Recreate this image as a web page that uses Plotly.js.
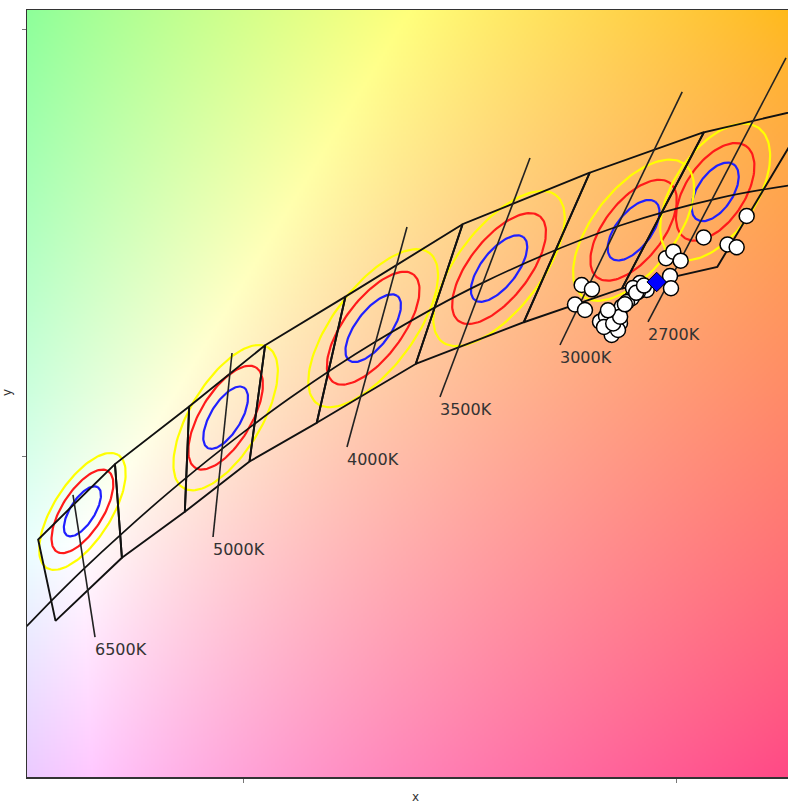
<!DOCTYPE html>
<html><head><meta charset="utf-8">
<script src="https://cdn.plot.ly/plotly-3.0.1.min.js"></script>
<style>html,body{margin:0;padding:0;background:#fff}</style>
</head><body>
<div id="chart" style="width:788px;height:804px"></div>
<script>
// ---------- axis ranges (CIE 1931 x, y) ----------
const xRange = [0.30023, 0.47558];
const yRange = [0.27465, 0.45469];
const tickValsX = [0.35, 0.45];
const tickValsY = [0.35, 0.45];

// ---------- Planckian locus ----------
const planckCCT = [2500, 2700, 3000, 3500, 4000, 4500, 5000, 5500, 6000, 6500, 7000, 7500, 8000];
const planckX = [0.4770, 0.4599, 0.4369, 0.4053, 0.3805, 0.3608, 0.3451, 0.3325, 0.3221, 0.3135, 0.3064, 0.3004, 0.2952];
const planckY = [0.4137, 0.4106, 0.4041, 0.3907, 0.3768, 0.3636, 0.3516, 0.3411, 0.3318, 0.3237, 0.3166, 0.3103, 0.3048];

// ---------- ANSI quadrangles (as drawn, shared edges) ----------
const quadNames = ['2700K', '3000K', '3500K', '4000K', '4500K', '5000K', '5700K', '6500K'];
const quadX = [
  [0.4813, 0.4562, 0.4373, 0.4593],
  [0.4562, 0.4299, 0.4147, 0.4373],
  [0.4299, 0.4006, 0.3898, 0.4147],
  [0.4006, 0.3736, 0.3670, 0.3898],
  [0.3736, 0.3551, 0.3515, 0.3670],
  [0.3551, 0.3376, 0.3366, 0.3515],
  [0.3376, 0.3205, 0.3221, 0.3366],
  [0.3205, 0.3028, 0.3068, 0.3221]
];
const quadY = [
  [0.4319, 0.4260, 0.3893, 0.3944],
  [0.4260, 0.4165, 0.3814, 0.3893],
  [0.4165, 0.4044, 0.3716, 0.3814],
  [0.4044, 0.3874, 0.3578, 0.3716],
  [0.3874, 0.3760, 0.3487, 0.3578],
  [0.3760, 0.3616, 0.3369, 0.3487],
  [0.3616, 0.3481, 0.3261, 0.3369],
  [0.3481, 0.3304, 0.3113, 0.3261]
];

// ---------- MacAdam ellipses (1-step parameters) ----------
const ellipseNames = ['6500K', '5000K', '4000K', '3500K', '3000K', '2700K'];
const ellipseCx = [0.313, 0.346, 0.380, 0.409, 0.440, 0.4588];
const ellipseCy = [0.337, 0.359, 0.380, 0.394, 0.403, 0.4120];
const ellipseA = [0.00223, 0.00274, 0.00313, 0.00309, 0.00278, 0.00258];
const ellipseB = [0.00095, 0.00118, 0.00134, 0.00138, 0.00136, 0.00137];
const ellipseTheta = [58.23, 59.62, 54.00, 52.93, 53.13, 57.28];
const ellipseSteps = [3, 5, 7];
const stepColors = ['#2020ff', '#ff1a1a', '#ffff00'];

// ---------- CCT label lines ----------
const labelText = ['6500K', '5000K', '4000K', '3500K', '3000K', '2700K'];
const labelTopX = [0.31083, 0.34747, 0.38779, 0.41613, 0.45120, 0.47512];
const labelTopY = [0.34085, 0.37418, 0.40376, 0.41995, 0.43545, 0.44343];
const labelBotX = [0.31590, 0.34309, 0.37396, 0.39539, 0.42304, 0.44332];
const labelBotY = [0.30751, 0.33099, 0.35211, 0.36385, 0.37606, 0.38146];

// ---------- measured samples ----------
const sampleX = [0.42804, 0.43041, 0.42650, 0.42880, 0.43226, 0.43456, 0.43496, 0.43687, 0.43571, 0.43726,
                 0.43956, 0.44147, 0.44302, 0.44101, 0.44839, 0.44862, 0.44747, 0.44915, 0.45085, 0.45615,
                 0.46164, 0.46375, 0.46606, 0.43848, 0.43364, 0.43641, 0.43318, 0.43986, 0.43530, 0.43690,
                 0.43410, 0.43800, 0.44060, 0.44240];
const sampleY = [0.39014, 0.38913, 0.38556, 0.38427, 0.38153, 0.37974, 0.37840, 0.38115, 0.38350, 0.38505,
                 0.38702, 0.39061, 0.38897, 0.38850, 0.39225, 0.38937, 0.39641, 0.39796, 0.39585, 0.40129,
                 0.39965, 0.39899, 0.40634, 0.38615, 0.38286, 0.37958, 0.38028, 0.38944, 0.38110, 0.38270,
                 0.38420, 0.38560, 0.38830, 0.39000];
const refX = [0.44532];
const refY = [0.39085];

// ---------- chromaticity background ----------
function gammaEnc(v) { v = Math.max(0, Math.min(1, v)); return v <= 0.0031308 ? 12.92 * v : 1.055 * Math.pow(v, 1 / 2.4) - 0.055; }
const NX = 380, NY = 384;
const dxI = (xRange[1] - xRange[0]) / NX, dyI = (yRange[1] - yRange[0]) / NY;
const bg = [];
for (let j = 0; j < NY; j++) {
  const row = [];
  const cy = yRange[0] + (j + 0.5) * dyI;
  for (let i = 0; i < NX; i++) {
    const cx = xRange[0] + (i + 0.5) * dxI;
    const X = cx / cy, Y = 1, Z = (1 - cx - cy) / cy;
    let r = 3.2406 * X - 1.5372 * Y - 0.4986 * Z;
    let g = -0.9689 * X + 1.8758 * Y + 0.0415 * Z;
    let b = 0.0557 * X - 0.2040 * Y + 1.0570 * Z;
    r = Math.max(r, 0); g = Math.max(g, 0); b = Math.max(b, 0);
    const m = Math.max(r, g, b);
    row.push([Math.round(255 * gammaEnc(r / m)), Math.round(255 * gammaEnc(g / m)), Math.round(255 * gammaEnc(b / m))]);
  }
  bg.push(row);
}

const traces = [];
traces.push({type: 'image', z: bg, x0: xRange[0] + dxI / 2, dx: dxI, y0: yRange[0] + dyI / 2, dy: dyI,
             zsmooth: 'fast', hoverinfo: 'skip'});

// ellipses
ellipseSteps.forEach((s, si) => {
  const ex = [], ey = [];
  for (let k = 0; k < ellipseCx.length; k++) {
    const t = ellipseTheta[k] * Math.PI / 180;
    const a = ellipseA[k] * s, b = ellipseB[k] * s;
    for (let n = 0; n <= 120; n++) {
      const p = 2 * Math.PI * n / 120;
      const u = a * Math.cos(p), v = b * Math.sin(p);
      ex.push(ellipseCx[k] + u * Math.cos(t) - v * Math.sin(t));
      ey.push(ellipseCy[k] + u * Math.sin(t) + v * Math.cos(t));
    }
    ex.push(null); ey.push(null);
  }
  traces.push({type: 'scatter', mode: 'lines', x: ex, y: ey, line: {color: stepColors[si], width: 2.2},
               hoverinfo: 'skip', connectgaps: false});
});

// quadrangles
{
  const qx = [], qy = [];
  for (let k = 0; k < quadX.length; k++) {
    for (let n = 0; n < 4; n++) { qx.push(quadX[k][n]); qy.push(quadY[k][n]); }
    qx.push(quadX[k][0]); qy.push(quadY[k][0]);
    qx.push(null); qy.push(null);
  }
  traces.push({type: 'scatter', mode: 'lines', x: qx, y: qy, line: {color: '#111', width: 1.9},
               hoverinfo: 'skip', connectgaps: false});
}

// Planckian locus
traces.push({type: 'scatter', mode: 'lines', x: planckX, y: planckY,
             line: {color: '#111', width: 1.7, shape: 'spline'}, hoverinfo: 'skip'});

// label lines
{
  const lx = [], ly = [];
  for (let k = 0; k < labelText.length; k++) {
    lx.push(labelTopX[k], labelBotX[k], null);
    ly.push(labelTopY[k], labelBotY[k], null);
  }
  traces.push({type: 'scatter', mode: 'lines', x: lx, y: ly, line: {color: '#222', width: 1.6},
               hoverinfo: 'skip', connectgaps: false});
}

// samples
traces.push({type: 'scatter', mode: 'markers', x: sampleX, y: sampleY,
             marker: {symbol: 'circle', size: 15, color: '#ffffff', line: {color: '#000', width: 1.5}}});
traces.push({type: 'scatter', mode: 'markers', x: refX, y: refY,
             marker: {symbol: 'diamond', size: 15, color: '#0000ff', line: {color: '#000', width: 1}}});

const annotations = labelText.map((t, k) => ({
  text: t, x: labelBotX[k], y: labelBotY[k], xref: 'x', yref: 'y', showarrow: false,
  xanchor: 'left', yanchor: 'top', xshift: -2, yshift: -1,
  font: {family: 'DejaVu Sans', size: 16, color: '#333'}
}));
annotations.push({text: 'x', xref: 'paper', yref: 'paper', x: (415 - 27) / 761, y: -(797 - 777) / 767,
  xanchor: 'center', yanchor: 'middle', showarrow: false, font: {family: 'DejaVu Sans', size: 12, color: '#333'}});
annotations.push({text: 'y', xref: 'paper', yref: 'paper', x: -(27 - 7) / 761, y: (777 - 393) / 767,
  xanchor: 'center', yanchor: 'middle', showarrow: false, textangle: -90,
  font: {family: 'DejaVu Sans', size: 12, color: '#333'}});

const layout = {
  width: 788, height: 804,
  margin: {l: 27, r: 0, t: 10, b: 27, pad: 0},
  paper_bgcolor: '#ffffff', plot_bgcolor: '#ffffff',
  showlegend: false,
  xaxis: {range: xRange, tickvals: tickValsX, showticklabels: false, ticks: 'outside', ticklen: 4,
          tickwidth: 1, tickcolor: '#777', showgrid: false, zeroline: false, showline: true,
          linecolor: '#333', linewidth: 1.5, mirror: true},
  yaxis: {range: yRange, tickvals: tickValsY, showticklabels: false, ticks: 'outside', ticklen: 4,
          tickwidth: 1, tickcolor: '#777', showgrid: false, zeroline: false, showline: true,
          linecolor: '#333', linewidth: 1.5, mirror: false, scaleanchor: false},
  annotations: annotations
};

Plotly.newPlot('chart', traces, layout, {staticPlot: true, displayModeBar: false});
</script>
</body></html>
